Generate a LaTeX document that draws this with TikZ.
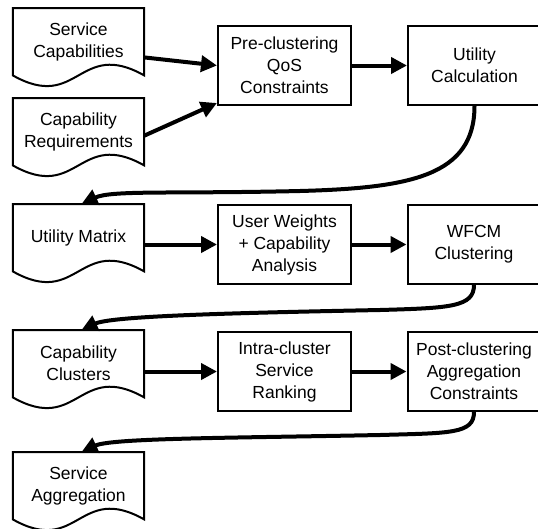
\documentclass[tikz,border=0pt]{standalone}
\usepackage{fontspec}
\setmainfont{Liberation Sans}
\usetikzlibrary{arrows.meta,calc}
\newcommand\docoutline[1]{\draw[docline] (#1.south east) -- (#1.north east) -- (#1.north west) -- (#1.south west) .. controls ($(#1.south)+(0,37)$) and ($(#1.south)+(0,-37)$) .. cycle;}
\begin{document}
\begin{tikzpicture}[x=1pt,y=-1pt,
  lbl/.style={font=\fontsize{17.5}{22}\selectfont, align=center, inner sep=0pt},
  docnode/.style={lbl, minimum width=131pt, minimum height=67pt, anchor=north},
  procbox/.style={lbl, draw, line width=2pt, minimum width=133pt, minimum height=79pt},
  docline/.style={line width=2pt, line join=miter},
  flow/.style={line width=4pt, -{Triangle[length=16pt,width=16pt]}},
]
\useasboundingbox (0,0) rectangle (538,528);

% document shapes
\node[docnode] (sc) at (78.5,8) {Service\\Capabilities};
\node[docnode] (cr) at (78.5,98) {Capability\\Requirements};
\node[docnode] (um) at (78.5,204) {Utility Matrix};
\node[docnode] (cc) at (78.5,330) {Capability\\Clusters};
\node[docnode] (sa) at (78.5,452) {Service\\Aggregation};
\docoutline{sc}
\docoutline{cr}
\docoutline{um}
\docoutline{cc}
\docoutline{sa}

% process boxes
\node[procbox] (pre) at (284.5,65.5) {Pre-clustering\\QoS\\Constraints};
\node[procbox] (uc) at (474.5,65.5) {Utility\\Calculation};
\node[procbox] (uw) at (284.5,244.5) {User Weights\\+ Capability\\Analysis};
\node[procbox] (wf) at (474,244.5) {WFCM\\Clustering};
\node[procbox] (ir) at (284.5,371.5) {Intra-cluster\\Service\\Ranking};
\node[procbox] (pc) at (474,371.5) {Post-clustering\\Aggregation\\Constraints};

% mid points of the curved connectors
\coordinate (m1) at (300,191);
\coordinate (m2) at (380,310);
\coordinate (m3) at (380,435);

% straight connectors
\draw[flow] ($(sc.south east)+(0,-18)$) -- (pre.west);
\draw[flow] ($(cr.east)+(0,4)$) -- ($(pre.south west)+(0,-3)$);
\draw[flow] (pre.east) -- (uc.west);
\draw[flow] (um.east |- uw.west) -- (uw.west);
\draw[flow] (uw.east) -- (wf.west);
\draw[flow] (cc.east |- ir.west) -- (ir.west);
\draw[flow] (ir.east) -- (pc.west);

% curved connectors
\draw[flow] (uc.south) .. controls +(0,70) and +(110,-3) .. (m1)
  .. controls +(-130,3) and +(30,-14) .. ($(um.north)+(3,0)$);
\draw[flow] (wf.south) .. controls +(0,22) and +(70,-2) .. (m2)
  .. controls +(-150,3) and +(30,-14) .. ($(cc.north)+(3,0)$);
\draw[flow] (pc.south) .. controls +(0,22) and +(70,-2) .. (m3)
  .. controls +(-150,3) and +(30,-14) .. ($(sa.north)+(3,0)$);
\end{tikzpicture}
\end{document}
